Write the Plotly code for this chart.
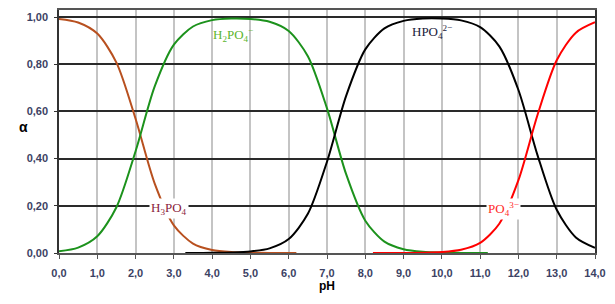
import plotly.graph_objects as go

# pH values and species fractions
ph_h3po4 = [0.0, 0.5, 1.0, 1.5, 2.0, 2.5, 3.0, 3.5, 4.0, 4.5, 5.0, 5.5, 6.0, 6.2]
a_h3po4 = [0.992, 0.977, 0.930, 0.807, 0.569, 0.294, 0.117, 0.040, 0.013, 0.004, 0.0013, 0.0004, 0.0001, 0.0001]

ph_h2po4 = [0.0, 0.5, 1.0, 1.5, 2.0, 2.5, 3.0, 3.5, 4.0, 4.5, 5.0, 5.5, 6.0, 6.5, 7.0, 7.5,
            8.0, 8.5, 9.0, 9.5, 10.0, 10.5, 11.0, 11.2]
a_h2po4 = [0.0075, 0.023, 0.071, 0.194, 0.431, 0.706, 0.883, 0.960, 0.987, 0.994, 0.992, 0.980,
           0.941, 0.834, 0.613, 0.334, 0.137, 0.048, 0.016, 0.005, 0.0016, 0.0005, 0.00015, 0.0001]

ph_hpo4 = [3.3, 3.5, 4.0, 4.5, 5.0, 5.5, 6.0, 6.5, 7.0, 7.5, 8.0, 8.5, 9.0, 9.5, 10.0, 10.5,
           11.0, 11.5, 12.0, 12.5, 13.0, 13.5, 14.0]
a_hpo4 = [0.0001, 0.0002, 0.0006, 0.002, 0.0063, 0.0196, 0.059, 0.166, 0.387, 0.666, 0.863,
          0.952, 0.984, 0.994, 0.994, 0.986, 0.957, 0.876, 0.691, 0.414, 0.183, 0.066, 0.022]

ph_po4 = [8.2, 8.5, 9.0, 9.5, 10.0, 10.5, 11.0, 11.5, 12.0, 12.5, 13.0, 13.5, 14.0]
a_po4 = [0.0001, 0.0001, 0.0004, 0.0014, 0.0044, 0.014, 0.043, 0.124, 0.309, 0.586, 0.817, 0.934, 0.978]

x_tick_vals = list(range(0, 15))
x_tick_text = ["0,0", "1,0", "2,0", "3,0", "4,0", "5,0", "6,0", "7,0", "8,0", "9,0", "10,0",
               "11,0", "12,0", "13,0", "14,0"]
y_tick_vals = [0.0, 0.2, 0.4, 0.6, 0.8, 1.0]
y_tick_text = ["0,00", "0,20", "0,40", "0,60", "0,80", "1,00"]

fig = go.Figure()
series = [
    (ph_h3po4, a_h3po4, "#b8501f"),
    (ph_h2po4, a_h2po4, "#1c921c"),
    (ph_hpo4, a_hpo4, "#000000"),
    (ph_po4, a_po4, "#ff0000"),
]
for xs, ys, col in series:
    fig.add_trace(go.Scatter(x=xs, y=ys, mode="lines",
                             line=dict(color=col, width=2, shape="spline", smoothing=0.8),
                             showlegend=False, hoverinfo="skip"))

labels = [
    (2.87, 0.19, "H<sub>3</sub>PO<sub>4</sub>", "#8a1c3c", "white"),
    (4.54, 0.925, "H<sub>2</sub>PO<sub>4</sub><sup>−</sup>", "#5cb52e", "rgba(0,0,0,0)"),
    (9.74, 0.935, "HPO<sub>4</sub><sup>2−</sup>", "#1a1a3a", "rgba(0,0,0,0)"),
    (11.62, 0.185, "PO<sub>4</sub><sup>3−</sup>", "#ff2a2a", "white"),
]
for x, y, t, c, bg in labels:
    fig.add_annotation(x=x, y=y, text=t, showarrow=False, bgcolor=bg,
                       font=dict(family="Liberation Serif", size=13, color=c))

fig.add_annotation(xref="paper", yref="paper", x=-0.078, y=0.52, text="α", showarrow=False,
                   font=dict(family="Liberation Sans", size=14, color="#000000", weight="bold"))

tickfont = dict(family="Liberation Sans", size=11, color="#3c4264", weight="bold")
fig.update_xaxes(range=[0, 14], tickvals=x_tick_vals, ticktext=x_tick_text,
                 showgrid=True, gridcolor="#c4c4c4", gridwidth=1.5,
                 showline=True, linecolor="#555555", linewidth=1.5, mirror=True,
                 ticks="outside", ticklen=4, tickcolor="#555555", tickfont=tickfont,
                 ticklabelstandoff=5, zeroline=False,
                 title=dict(text="pH", font=dict(family="Liberation Sans", size=12,
                                                 color="#000000", weight="bold"), standoff=4))
fig.update_yaxes(range=[0, 1.03], tickvals=y_tick_vals, ticktext=y_tick_text,
                 showgrid=True, gridcolor="#2a2a2a", gridwidth=1.5,
                 showline=True, linecolor="#333333", linewidth=1.5, mirror=True,
                 ticks="outside", ticklen=3, tickcolor="#333333", tickfont=tickfont,
                 ticklabelstandoff=4, zeroline=False)

# page body has an 8px margin, so the figure is shifted; compensate in margins
fig.update_layout(width=607, height=296, margin=dict(l=51, r=20, t=0, b=51),
                  plot_bgcolor="white", paper_bgcolor="white")

fig.write_html("out.html")
